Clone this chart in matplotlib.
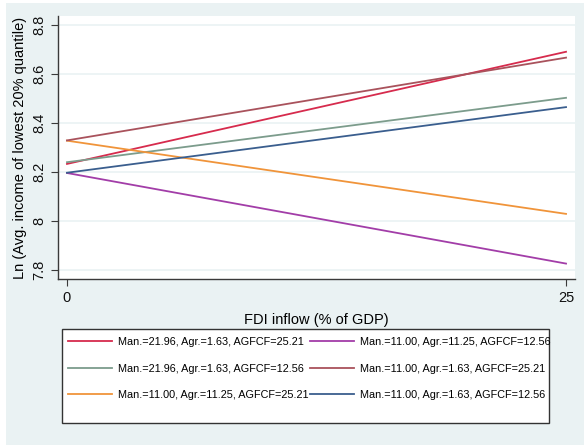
import matplotlib.pyplot as plt
from matplotlib.patches import Rectangle

plt.rcParams['font.family'] = ['Liberation Sans', 'DejaVu Sans']

fdi = [0, 25]

etiquetas = [
    "Man.=21.96, Agr.=1.63, AGFCF=25.21",
    "Man.=21.96, Agr.=1.63, AGFCF=12.56",
    "Man.=11.00, Agr.=11.25, AGFCF=25.21",
    "Man.=11.00, Agr.=11.25, AGFCF=12.56",
    "Man.=11.00, Agr.=1.63, AGFCF=25.21",
    "Man.=11.00, Agr.=1.63, AGFCF=12.56",
]
inicio = [8.233, 8.240, 8.328, 8.196, 8.329, 8.197]
final = [8.691, 8.503, 8.029, 7.826, 8.667, 8.465]
colores = ["#D62B4D", "#7C9C8C", "#F0943A", "#A23DA8", "#A9525C", "#3A5E8E"]

fondo = "#EAF2F3"

fig = plt.figure(figsize=(5.84, 4.45), dpi=100, facecolor="white")
# fondo del gráfico, con un margen blanco arriba y a la izquierda
fig.patches.append(Rectangle((6 / 584, 0), 578 / 584, 442 / 445,
                             transform=fig.transFigure, facecolor=fondo,
                             edgecolor="none", zorder=-1))

ax = fig.add_axes([0.0993, 0.373, 0.8853, 0.591])
ax.set_facecolor("white")

lineas = []
for y0, y1, c in zip(inicio, final, colores):
    l, = ax.plot(fdi, [y0, y1], color=c, lw=1.3)
    lineas.append(l)

ax.set_xlim(-0.45, 25.45)
ax.set_ylim(7.763, 8.837)
ax.set_xticks([0, 25])
ax.set_yticks([7.8, 8.0, 8.2, 8.4, 8.6, 8.8])
ax.set_yticklabels(["7.8", "8", "8.2", "8.4", "8.6", "8.8"], rotation=90, va="center")
ax.yaxis.grid(True, color=fondo, lw=1.2)
ax.set_axisbelow(True)

for lado in ["top", "right"]:
    ax.spines[lado].set_visible(False)
for lado in ["left", "bottom"]:
    ax.spines[lado].set_color("#3a3a3a")
    ax.spines[lado].set_linewidth(1.0)
ax.tick_params(direction="out", length=5, color="#3a3a3a", labelsize=10.5,
               labelcolor="#111111")

ax.set_xlabel("FDI inflow (% of GDP)", fontsize=10.5, labelpad=6)
ax.set_ylabel("Ln (Avg. income of lowest 20% quantile)", fontsize=10.5, labelpad=4)

# recuadro de la leyenda
fig.patches.append(Rectangle((62 / 584, 1 - 423 / 445), 487 / 584, 94 / 445,
                             transform=fig.transFigure, facecolor="white",
                             edgecolor="#333333", lw=1.0, zorder=0))

fig.legend(lineas, etiquetas, ncol=2, loc="upper left",
           bbox_to_anchor=(65 / 584, 1 - 334 / 445), frameon=False,
           fontsize=7.8, handlelength=4.06, handletextpad=0.55,
           columnspacing=0.1, labelspacing=1.5, borderpad=0.3,
           borderaxespad=0)

fig.savefig("out.png", dpi=100, facecolor="white")
